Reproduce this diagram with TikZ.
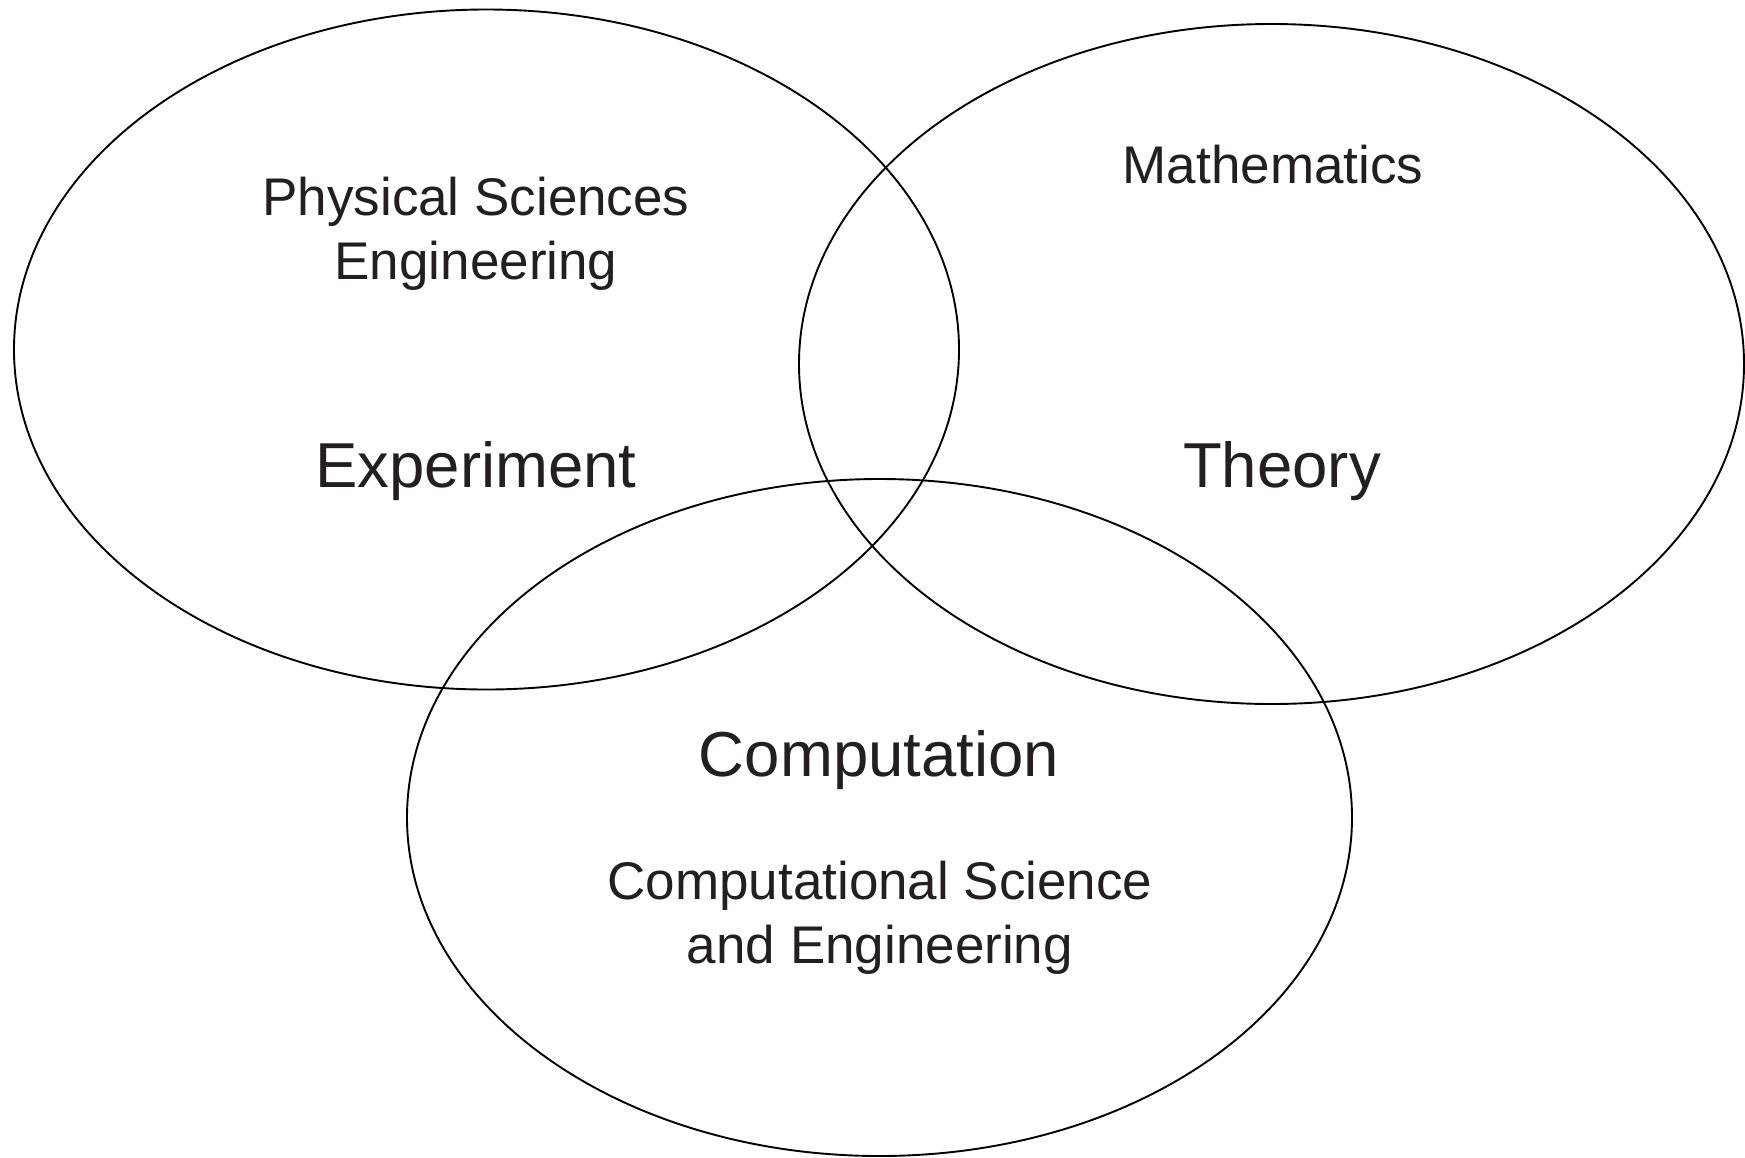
\documentclass[tikz,border=0pt]{standalone}
\usepackage{fontspec}
\setmainfont{Liberation Sans}
\usetikzlibrary{shapes.geometric}
\definecolor{txt}{HTML}{231F20}
\tikzset{
  oval/.style={draw=black, line width=1.9pt, ellipse, inner sep=0pt, minimum width=945pt, minimum height=680pt},
  big/.style={text=txt, anchor=base, font=\fontsize{63.5}{70}\selectfont, inner sep=0pt},
  small/.style={text=txt, anchor=base, font=\fontsize{53}{62}\selectfont, inner sep=0pt}
}
\begin{document}
\begin{tikzpicture}[x=1pt,y=-1pt]
\useasboundingbox (0,0) rectangle (1745,1157);
\fill[white] (0,0) rectangle (1745,1157);
\node[oval] (exp) at (486.5,349.5) {};
\node[oval] (the) at (1271.5,364) {};
\node[oval, minimum height=677pt] (com) at (879.5,817.5) {};
\node[small] (phys) at (476,215) {Physical Sciences};
\node[small] (eng) at (476,279) {Engineering};
\node[big] (expl) at (476,487.5) {Experiment};
\node[small] (math) at (1273,183) {Mathematics};
\node[big] (thel) at (1282,487.5) {Theory};
\node[big] (coml) at (879,776) {Computation};
\node[small] (cse) at (880,899) {Computational Science};
\node[small] (ande) at (880,963.5) {and Engineering};
\end{tikzpicture}
\end{document}
